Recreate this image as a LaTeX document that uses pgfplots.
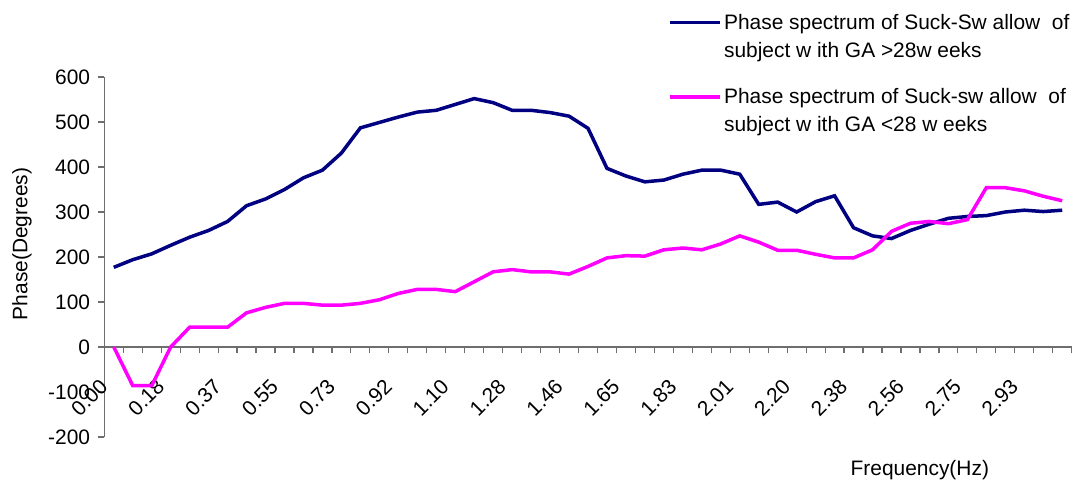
\documentclass[border=0pt]{standalone}
\usepackage{pgfplots}
\pgfplotsset{compat=1.18}
\usepackage{pgfplotstable}
\usepackage{fontspec}
\setmainfont{Liberation Sans}
\definecolor{navyline}{RGB}{0,0,128}
\definecolor{pinkline}{RGB}{255,0,255}
\definecolor{axgray}{RGB}{110,110,110}

\pgfplotstableread{
i blue pink
0 177 0
1 194 -86
2 207 -86
3 226 0
4 244 44
5 259 44
6 279 44
7 314 76
8 329 88
9 350 97
10 376 97
11 393 93
12 431 93
13 487 97
14 499 105
15 511 119
16 522 128
17 526 128
18 539 123
19 552 145
20 543 167
21 526 172
22 526 167
23 521 167
24 513 162
25 486 179
26 397 198
27 380 203
28 367 202
29 371 216
30 384 220
31 393 216
32 393 229
33 384 247
34 317 233
35 322 215
36 300 215
37 323 206
38 336 198
39 265 198
40 247 216
41 241 257
42 259 275
43 273 279
44 286 274
45 290 283
46 292 354
47 300 354
48 304 347
49 301 335
50 304 325
}\datatable

\begin{document}
\begin{tikzpicture}
\path[use as bounding box] (0,0) rectangle (1085bp,488bp);
\begin{axis}[
  at={(104.3bp,51bp)}, anchor=south west,
  scale only axis, width=967.4bp, height=360bp,
  xmin=-0.5, xmax=50.5, ymin=-200, ymax=600,
  axis x line=middle, axis y line=left,
  axis line style={-, draw=axgray, line width=1.2bp},
  hide obscured x ticks=false, hide obscured y ticks=false,
  xtick={-0.5,0.5,...,50.5},
  xticklabels={},
  extra x ticks={0,3,...,48},
  extra x tick labels={0.00,0.18,0.37,0.55,0.73,0.92,1.10,1.28,1.46,1.65,1.83,2.01,2.20,2.38,2.56,2.75,2.93},
  extra x tick style={major tick length=0pt, tick style={draw=none},
    xticklabel style={xshift=-10bp, yshift=-36bp, rotate=45, anchor=east, inner sep=0pt}},
  ytick={-200,-100,...,600},
  tick align=outside,
  major tick length=6bp,
  every tick/.style={draw=axgray, line width=1.2bp},
  /pgf/number format/assume math mode=true,
  ticklabel style={font=\fontsize{21}{25}\selectfont},
  yticklabel style={inner sep=0pt, xshift=-8bp},
  xlabel={Frequency(Hz)},
  ylabel={Phase(Degrees)},
  label style={font=\fontsize{21}{25}\selectfont},
  xlabel style={at={(axis description cs:0.843,-0.092)}, anchor=center},
  ylabel style={at={(axis description cs:-0.085,0.536)}, anchor=center, rotate=0},
  legend style={at={(axis description cs:0.580,1.186)}, anchor=north west,
    draw=none, fill=none, font=\fontsize{21}{28}\selectfont,
    cells={anchor=west, align=left}, row sep=26bp},
  legend cell align=left,
  legend image code/.code={\draw[#1] (0bp,14bp) -- (50bp,14bp);},
]
\addplot[navyline, line width=3.5bp, mark=none] table[x=i, y=blue] {\datatable};
\addlegendentry{Phase spectrum of Suck-Sw allow\ \ of\\subject w ith GA >28w eeks}
\addplot[pinkline, line width=3.5bp, mark=none] table[x=i, y=pink] {\datatable};
\addlegendentry{Phase spectrum of Suck-sw allow\ \ of\\subject w ith GA <28 w eeks}
\end{axis}
\end{tikzpicture}
\end{document}
